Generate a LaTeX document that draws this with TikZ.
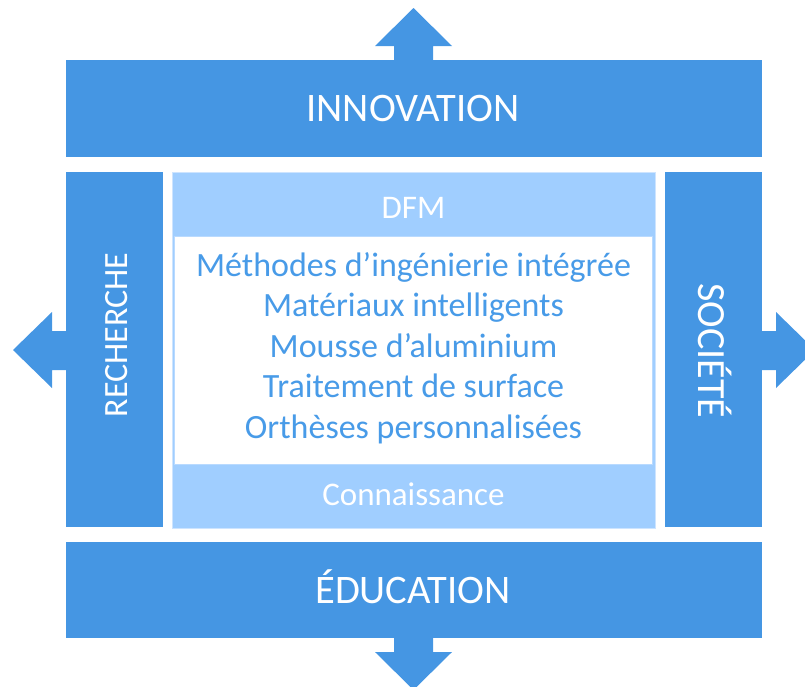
\documentclass[tikz,border=0pt]{standalone}
\usepackage{fontspec}
\setmainfont{Carlito}
\definecolor{dblue}{RGB}{69,150,227}
\definecolor{lblue}{RGB}{160,206,255}
\definecolor{tblue}{RGB}{72,155,232}
\begin{document}
\begin{tikzpicture}[x=1pt,y=-1pt,
  bar/.style={fill=dblue, draw=none, inner sep=0pt, text=white},
  item/.style={anchor=base, text=tblue, font=\fontsize{34}{34}\selectfont, inner sep=0pt},
  band/.style={anchor=base, text=white, font=\fontsize{33}{33}\selectfont, inner sep=0pt},
  bigtext/.style={font=\fontsize{40.5}{40.5}\selectfont, text=white, anchor=base, inner sep=0pt}]
\useasboundingbox (0,0) rectangle (805,686);
\begin{scope}
\clip (0,0) rectangle (805,686);
% arrows
\fill[dblue] (394,60) -- (394,46) -- (375,46) -- (413.5,8) -- (452,46) -- (433,46) -- (433,60) -- cycle;
\fill[dblue] (394,630) -- (394,652) -- (375,652) -- (413.5,690) -- (452,652) -- (433,652) -- (433,630) -- cycle;
\fill[dblue] (70,331) -- (52,331) -- (52,312) -- (13,350) -- (52,388) -- (52,370) -- (70,370) -- cycle;
\fill[dblue] (758,331) -- (776,331) -- (776,312) -- (815,350) -- (776,388) -- (776,370) -- (758,370) -- cycle;
\end{scope}
% bars
\node[bar, minimum width=696pt, minimum height=97pt] (innov) at (414,108.5) {};
\node[bar, minimum width=696pt, minimum height=96pt] (educ) at (414,590) {};
\node[bar, minimum width=97pt, minimum height=355pt] (rech) at (114.5,349.5) {};
\node[bar, minimum width=97pt, minimum height=355pt] (soc) at (713.5,349.5) {};
\node[bigtext] (innovt) at (413,121) {INNOVATION};
\node[bigtext] (educt) at (413,603) {ÉDUCATION};
\node[text=white, font=\fontsize{34}{34}\selectfont, rotate=90, anchor=base, inner sep=0pt] (recht) at (127,335) {RECHERCHE};
\node[text=white, font=\fontsize{40}{40}\selectfont, rotate=-90, anchor=base, inner sep=0pt] (soct) at (698,351) {SOCIÉTÉ};
% centre
\node[fill=lblue, draw={rgb,255:red,205;green,228;blue,255}, line width=0.8pt, minimum width=483pt, minimum height=356pt, inner sep=0pt] (centre) at (413.5,350) {};
\node[fill=white, draw={rgb,255:red,185;green,218;blue,255}, line width=0.8pt, minimum width=478pt, minimum height=228pt, inner sep=0pt] (inner) at (413.5,350) {};
\node[band] (dfm) at (413.5,218) {DFM};
\node[band] (conn) at (413.5,505) {Connaissance};
\node[item] (l1) at (413.5,276) {Méthodes d’ingénierie intégrée};
\node[item] (l2) at (413.5,316) {Matériaux intelligents};
\node[item] (l3) at (413.5,357) {Mousse d’aluminium};
\node[item] (l4) at (413.5,397.5) {Traitement de surface};
\node[item] (l5) at (413.5,438) {Orthèses personnalisées};
\end{tikzpicture}
\end{document}
